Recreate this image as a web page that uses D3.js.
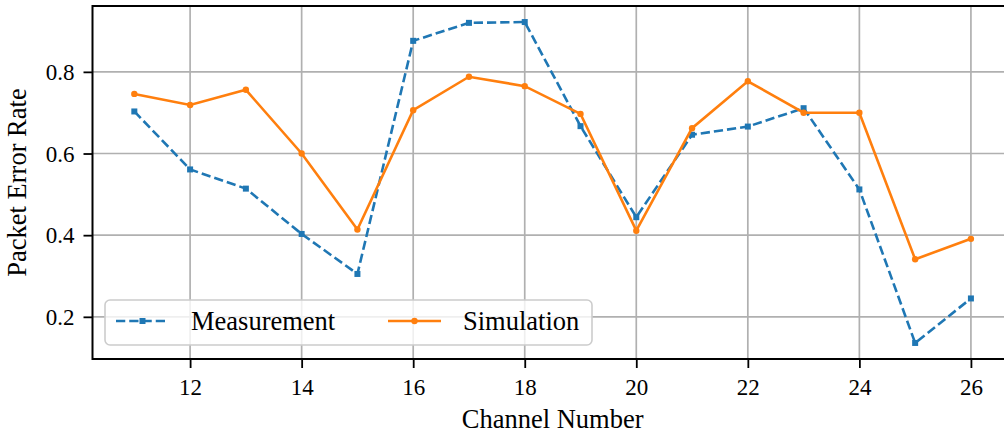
<!DOCTYPE html>
<html>
<head>
<meta charset="utf-8">
<script src="https://cdn.jsdelivr.net/npm/d3@7"></script>
<style>
  body { margin: 0; background: #fff; }
  svg text { font-family: 'Liberation Serif', 'Times New Roman', serif !important; fill: #000; }
</style>
</head>
<body>
<div id="chart"></div>
<script>
// channel numbers and packet error rates
var channels = [11, 12, 13, 14, 15, 16, 17, 18, 19, 20, 21, 22, 23, 24, 25, 26];
var measurement = [0.703, 0.561, 0.514, 0.403, 0.305, 0.876, 0.920, 0.922, 0.667, 0.444, 0.646, 0.666, 0.711, 0.512, 0.136, 0.245];
var simulation = [0.746, 0.719, 0.756, 0.600, 0.414, 0.706, 0.788, 0.765, 0.697, 0.411, 0.662, 0.777, 0.700, 0.700, 0.341, 0.391];
var xTicks = [12, 14, 16, 18, 20, 22, 24, 26];
var yTicks = [0.2, 0.4, 0.6, 0.8];

var width = 1004, height = 437;
var margin = {top: 6, left: 92.5, bottom: 78};
var plotRight = 1012.75; // right spine falls just outside the picture
var serif = "'Liberation Serif', 'Times New Roman', serif";
var tickFont = 23, labelFont = 26.5;

var svg = d3.select("#chart").append("svg")
  .attr("width", width)
  .attr("height", height)
  .style("display", "block");

// matplotlib style 5% padding
function padded(ext) {
  var d = (ext[1] - ext[0]) * 0.05;
  return [ext[0] - d, ext[1] + d];
}

var x = d3.scaleLinear()
  .domain(padded(d3.extent(channels)))
  .range([margin.left, plotRight]);

var y = d3.scaleLinear()
  .domain(padded(d3.extent(measurement.concat(simulation))))
  .range([height - margin.bottom, margin.top]);

var y0 = height - margin.bottom;

// grid
var grid = svg.append("g").attr("class", "grid");
grid.selectAll(".gx").data(xTicks).enter().append("line")
  .attr("x1", function (d) { return x(d); })
  .attr("x2", function (d) { return x(d); })
  .attr("y1", margin.top).attr("y2", y0)
  .attr("stroke", "#b0b0b0").attr("stroke-width", 1.7);
grid.selectAll(".gy").data(yTicks).enter().append("line")
  .attr("y1", function (d) { return y(d); })
  .attr("y2", function (d) { return y(d); })
  .attr("x1", margin.left).attr("x2", plotRight)
  .attr("stroke", "#b0b0b0").attr("stroke-width", 1.7);

// lines
var series = [
  {name: "Measurement", values: measurement, color: "#1f77b4", dash: "9.25,4", marker: "square"},
  {name: "Simulation", values: simulation, color: "#ff7f0e", dash: null, marker: "circle"}
];

var line = d3.line()
  .x(function (d) { return x(d[0]); })
  .y(function (d) { return y(d[1]); });

series.forEach(function (s) {
  var pts = channels.map(function (c, i) { return [c, s.values[i]]; });
  svg.append("path")
    .datum(pts)
    .attr("d", line)
    .attr("fill", "none")
    .attr("stroke", s.color)
    .attr("stroke-width", 2.6)
    .attr("stroke-dasharray", s.dash);
  var m = svg.append("g");
  if (s.marker == "square") {
    m.selectAll("rect").data(pts).enter().append("rect")
      .attr("x", function (d) { return x(d[0]) - 3; })
      .attr("y", function (d) { return y(d[1]) - 3; })
      .attr("width", 6).attr("height", 6)
      .attr("fill", s.color);
  } else {
    m.selectAll("circle").data(pts).enter().append("circle")
      .attr("cx", function (d) { return x(d[0]); })
      .attr("cy", function (d) { return y(d[1]); })
      .attr("r", 3.2)
      .attr("fill", s.color);
  }
});

// axes
var xAxis = d3.axisBottom(x).tickValues(xTicks).tickSize(9).tickPadding(10).tickFormat(d3.format("d"));
var yAxis = d3.axisLeft(y).tickValues(yTicks).tickSize(9).tickPadding(9).tickFormat(d3.format(".1f"));

var gx = svg.append("g")
  .attr("transform", "translate(0," + y0 + ")")
  .call(xAxis);
var gy = svg.append("g")
  .attr("transform", "translate(" + margin.left + ",0)")
  .call(yAxis);

[gx, gy].forEach(function (g) {
  g.attr("font-family", serif).attr("font-size", tickFont);
  g.select(".domain").remove();
  g.selectAll(".tick line").attr("stroke", "#000").attr("stroke-width", 1.8);
  g.selectAll(".tick text")
    .attr("fill", "#000")
    .attr("font-family", serif)
    .attr("font-size", tickFont);
});
gx.selectAll(".tick text").attr("dy", "0.72em");
gy.selectAll(".tick text").attr("dy", "0.34em");

// spines
svg.append("rect")
  .attr("x", margin.left).attr("y", margin.top)
  .attr("width", plotRight - margin.left)
  .attr("height", y0 - margin.top)
  .attr("fill", "none")
  .attr("stroke", "#000")
  .attr("stroke-width", 2);

// axis titles
svg.append("text")
  .attr("x", (margin.left + plotRight) / 2)
  .attr("y", 428)
  .attr("text-anchor", "middle")
  .attr("font-family", serif)
  .attr("font-size", labelFont)
  .text("Channel Number");

svg.append("text")
  .attr("transform", "translate(26," + ((margin.top + y0) / 2) + ") rotate(-90)")
  .attr("text-anchor", "middle")
  .attr("font-family", serif)
  .attr("font-size", labelFont)
  .text("Packet Error Rate");

// legend
var legend = svg.append("g").attr("transform", "translate(105,300)");
legend.append("rect")
  .attr("width", 487).attr("height", 45)
  .attr("rx", 5).attr("ry", 5)
  .attr("fill", "#fff").attr("fill-opacity", 0.8)
  .attr("stroke", "#cccccc").attr("stroke-width", 1.6);

var legendX = [11, 283];
series.forEach(function (s, i) {
  var lg = legend.append("g").attr("transform", "translate(" + legendX[i] + ",21)");
  lg.append("line")
    .attr("x1", 0).attr("x2", 53)
    .attr("stroke", s.color).attr("stroke-width", 2.6)
    .attr("stroke-dasharray", s.dash);
  if (s.marker == "square") {
    lg.append("rect").attr("x", 23.5).attr("y", -3).attr("width", 6).attr("height", 6).attr("fill", s.color);
  } else {
    lg.append("circle").attr("cx", 26.5).attr("r", 3.2).attr("fill", s.color);
  }
  lg.append("text")
    .attr("x", 75).attr("y", 9)
    .attr("font-family", serif)
    .attr("font-size", labelFont)
    .text(s.name);
});
</script>
</body>
</html>
